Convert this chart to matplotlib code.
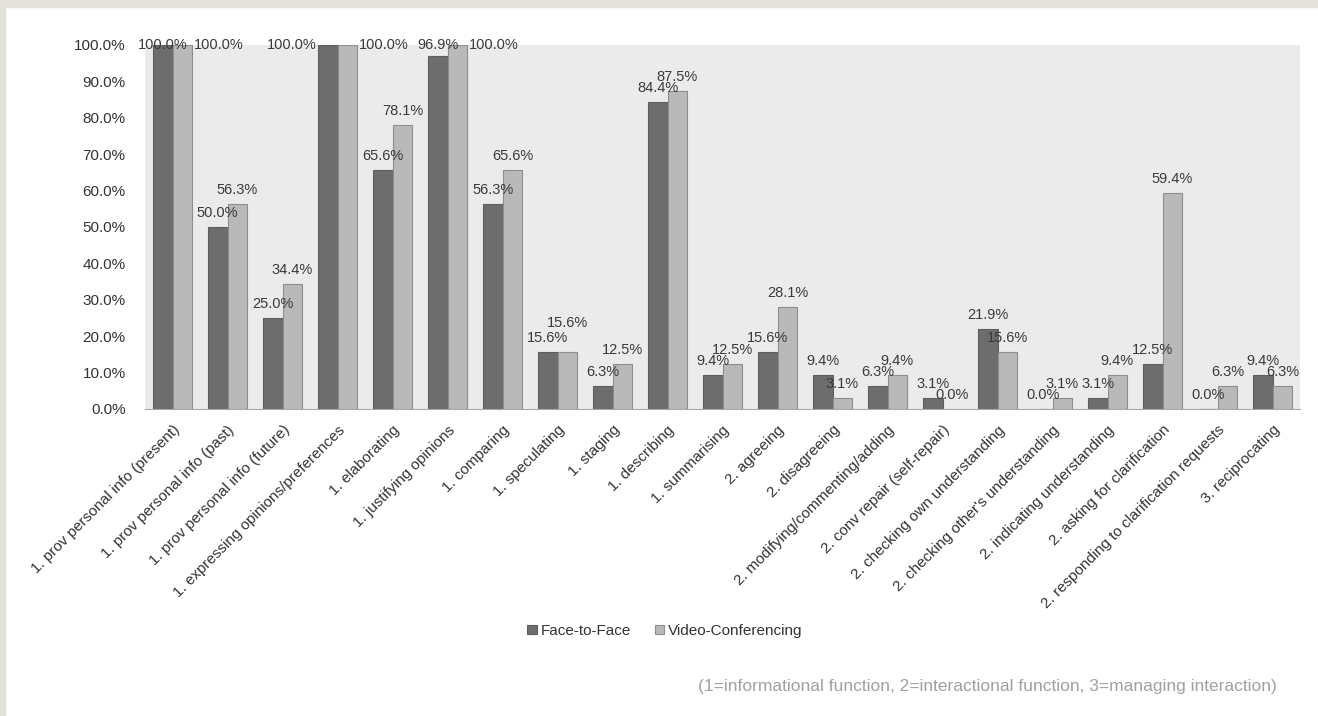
import numpy as np
import matplotlib
matplotlib.use("Agg")
import matplotlib.pyplot as plt
import matplotlib.ticker as mticker
from matplotlib.patches import Rectangle

plt.rcParams['font.family'] = ['Liberation Sans', 'DejaVu Sans']

# data
categories = [
    "1. prov personal info (present)",
    "1. prov personal info (past)",
    "1. prov personal info (future)",
    "1. expressing opinions/preferences",
    "1. elaborating",
    "1. justifying opinions",
    "1. comparing",
    "1. speculating",
    "1. staging",
    "1. describing",
    "1. summarising",
    "2. agreeing",
    "2. disagreeing",
    "2. modifying/commenting/adding",
    "2. conv repair (self-repair)",
    "2. checking own understanding",
    "2. checking other's understanding",
    "2. indicating understanding",
    "2. asking for clarification",
    "2. responding to clarification requests",
    "3. reciprocating",
]
face_to_face = [100.0, 50.0, 25.0, 100.0, 65.6, 96.9, 56.3, 15.6, 6.3, 84.4, 9.4,
                15.6, 9.4, 6.3, 3.1, 21.9, 0.0, 3.1, 12.5, 0.0, 9.4]
video_conf = [100.0, 56.3, 34.4, 100.0, 78.1, 100.0, 65.6, 15.6, 12.5, 87.5, 12.5,
              28.1, 3.1, 9.4, 0.0, 15.6, 3.1, 9.4, 59.4, 6.3, 6.3]
series_names = ["Face-to-Face", "Video-Conferencing"]
footnote = "(1=informational function, 2=interactional function, 3=managing interaction)"

fig = plt.figure(figsize=(13.18, 7.16), dpi=100, facecolor="white")
# grey page border top and left
fig.patches.append(Rectangle((0, 1 - 7/716), 1, 7/716, transform=fig.transFigure,
                             color="#e4e1dd", zorder=0))
fig.patches.append(Rectangle((0, 0), 5/1318, 1, transform=fig.transFigure,
                             color="#e4e1dd", zorder=0))

ax = fig.add_axes([145/1318, 1 - 409/716, 1155/1318, 364/716])
ax.set_facecolor("#ebebeb")

x = np.arange(len(categories))
w = 0.36
b1 = ax.bar(x - w/2, face_to_face, w, color="#6d6d6d", edgecolor="#5e5e5e", linewidth=0.8,
            label=series_names[0], zorder=2)
b2 = ax.bar(x + w/2, video_conf, w, color="#b9b9b9", edgecolor="#8e8e8e", linewidth=0.8,
            label=series_names[1], zorder=2)

ax.set_xlim(-0.5, len(categories) - 0.5)
ax.set_ylim(0, 100)
ax.yaxis.set_major_locator(mticker.MultipleLocator(10))
ax.yaxis.set_major_formatter(mticker.FormatStrFormatter('%.1f%%'))
for s in ["top", "right", "left"]:
    ax.spines[s].set_visible(False)
ax.spines["bottom"].set_color("#a8a8a8")
ax.tick_params(axis="both", length=0, colors="#333333")
ax.tick_params(axis="y", labelsize=11, pad=14)

ax.set_xticks(x)
ax.set_xticklabels(categories, rotation=45, ha="right", rotation_mode="anchor",
                   fontsize=11, color="#333333")
ax.tick_params(axis="x", pad=10)

# data labels (Excel style, pushed aside when they hit the top)
def add_labels(vals, side, other):
    for i, v in enumerate(vals):
        xc = x[i] + side * w/2
        if v >= 95:
            dx = 0
            if v >= 100 and not (side < 0 and i == 0):
                dx = side * 26
            ax.annotate(f"{v:.1f}%", (xc, 100), xytext=(dx, 0), textcoords="offset points",
                        ha="center", va="center", fontsize=10.5, color="#3a3a3a",
                        annotation_clip=False, zorder=3)
        else:
            dy = 5
            # equal neighbours: Excel lifts the second label
            if side > 0 and abs(v - other[i]) < 1:
                dy = 16
            ax.annotate(f"{v:.1f}%", (xc, v), xytext=(0, dy), textcoords="offset points",
                        ha="center", va="bottom", fontsize=10.5, color="#3a3a3a", zorder=3)

add_labels(face_to_face, -1, video_conf)
add_labels(video_conf, 1, face_to_face)

fig.legend(handles=[b1, b2], loc="center", bbox_to_anchor=(665/1318, 1 - 631/716),
           ncol=2, frameon=False, fontsize=11, handlelength=0.6, handleheight=0.6,
           handletextpad=0.25, columnspacing=1.6, labelcolor="#333333")

fig.text(1277/1318, 1 - 686/716, footnote, ha="right", va="center", fontsize=12.5,
         color="#a0a0a0")

plt.savefig("out.png", dpi=100, facecolor=fig.get_facecolor())
